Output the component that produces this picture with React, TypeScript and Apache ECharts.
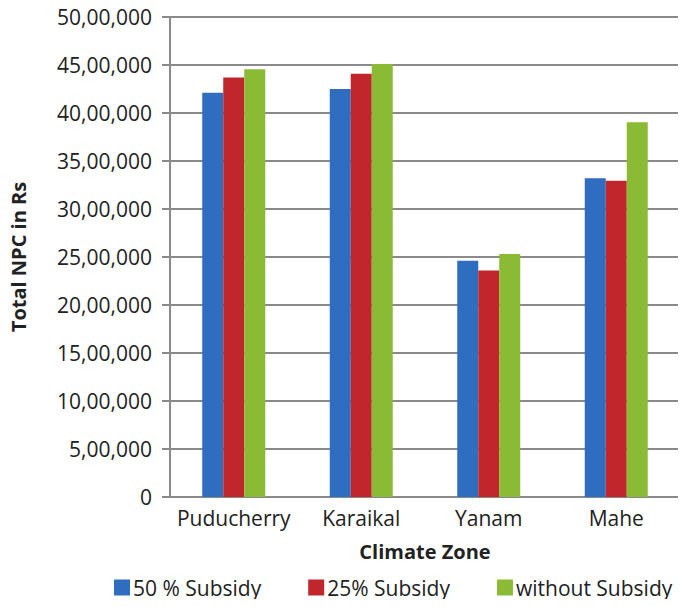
import React, { useEffect, useRef } from "react";
import * as echarts from "echarts";

const zones = ["Puducherry", "Karaikal", "Yanam", "Mahe"];
const seriesNames = ["50 % Subsidy", "25% Subsidy", "without Subsidy"];
const subsidy50 = [4210000, 4250000, 2460000, 3320000];
const subsidy25 = [4370000, 4410000, 2360000, 3295000];
const noSubsidy = [4455000, 4510000, 2530000, 3903000];
const colors = ["#2e6dbf", "#c0262b", "#8bba35"];

// Indian digit grouping: 50,00,000
function indianFormat(v: number): string {
  const s = String(Math.round(v));
  if (s.length <= 3) return s;
  const last3 = s.slice(-3);
  const rest = s.slice(0, -3).replace(/\B(?=(\d{2})+(?!\d))/g, ",");
  return rest + "," + last3;
}

export default function App() {
  const ref = useRef<HTMLDivElement>(null);
  useEffect(() => {
    if (!ref.current) return;
    const chart = echarts.init(ref.current, null, { renderer: "svg" });
    const font = "'Open Sans', sans-serif";
    const values = [subsidy50, subsidy25, noSubsidy];
    chart.setOption({
      animation: false,
      textStyle: { fontFamily: font },
      grid: { left: 160, right: 6, top: 17, bottom: 110, containLabel: false },
      legend: {
        bottom: 4,
        left: 109,
        itemWidth: 16,
        itemHeight: 16,
        itemGap: 47,
        icon: "rect",
        textStyle: { fontSize: 21, color: "#222", fontFamily: font, padding: [0, 0, 0, -2] },
        data: seriesNames,
      },
      xAxis: {
        type: "category",
        data: zones,
        name: "Climate Zone",
        nameLocation: "middle",
        nameGap: 44,
        nameTextStyle: { fontSize: 20, fontWeight: "bold", color: "#222", fontFamily: font },
        axisLine: { lineStyle: { color: "#8a8a8a", width: 2 } },
        axisTick: { show: false },
        axisLabel: { fontSize: 21, color: "#222", margin: 10, interval: 0 },
      },
      yAxis: {
        type: "value",
        min: 0,
        max: 5000000,
        interval: 500000,
        name: "Total NPC in Rs",
        nameLocation: "middle",
        nameGap: 142,
        nameTextStyle: { fontSize: 20, fontWeight: "bold", color: "#222", fontFamily: font },
        axisLine: { show: true, lineStyle: { color: "#8a8a8a", width: 2 } },
        axisTick: { show: true, length: 8, lineStyle: { color: "#8a8a8a", width: 2 } },
        splitLine: { lineStyle: { color: "#8a8a8a", width: 2 } },
        axisLabel: { fontSize: 21, color: "#222", margin: 18, formatter: indianFormat },
      },
      series: seriesNames.map((n, i) => ({
        name: n,
        type: "bar",
        data: values[i],
        barWidth: 21,
        barGap: "0%",
        itemStyle: { color: colors[i] },
      })),
    });
    return () => chart.dispose();
  }, []);
  return <div ref={ref} style={{ width: 686, height: 607, margin: -8 }} />;
}
